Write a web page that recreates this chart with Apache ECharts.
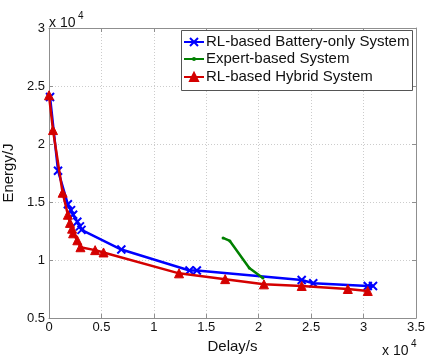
<!DOCTYPE html>
<html>
<head>
<meta charset="utf-8">
<script src="https://cdn.jsdelivr.net/npm/echarts@6/dist/echarts.min.js"></script>
<style>
  html, body { margin: 0; padding: 0; background: #fff; }
  #chart { width: 427px; height: 358px; }
</style>
</head>
<body>
<div id="chart"></div>
<script>
// values (delay in s, energy in J)
const xTicks = ["0", "0.5", "1", "1.5", "2", "2.5", "3", "3.5"];
const yTicks = ["0.5", "1", "1.5", "2", "2.5", "3"];

const batteryDelay = [100, 860, 1800, 2100, 2300, 2700, 2950, 3100, 6900, 13400, 14100, 24100, 25200, 30400, 30900];
const batteryEnergy = [24050, 17700, 14800, 14300, 13900, 13300, 12900, 12600, 10900, 9100, 9100, 8280, 8000, 7760, 7760];

const expertDelay = [16600, 17250, 19100, 20400];
const expertEnergy = [11900, 11640, 9310, 8450];

const hybridDelay = [0, 380, 1300, 1800, 2000, 2200, 2300, 2700, 3000, 4400, 5200, 12400, 16800, 20500, 24100, 28500, 30400];
const hybridEnergy = [24200, 21200, 15800, 13900, 13200, 12700, 12300, 11700, 11100, 10850, 10650, 8850, 8350, 7900, 7760, 7500, 7330];

const seriesNames = ["RL-based Battery-only System", "Expert-based System", "RL-based Hybrid System"];

const zip = (xs, ys) => xs.map((x, i) => [x, ys[i]]);

const chart = echarts.init(document.getElementById("chart"), null, { renderer: "canvas" });

const font = "'Liberation Sans', Arial, sans-serif";
const axisGrey = "#8f8f8f";
const gridLine = { show: true, lineStyle: { color: "#cccccc", type: [1, 2], width: 1 } };
// tick value -> label like MATLAB's "x 10^4" scaled axis
const fmt = (v) => String(+(v / 10000).toFixed(1));

const crossPath = "path://M0,0L10,10M10,0L0,10";

const frameAxis = {
  axisLine: { show: true, onZero: false, lineStyle: { color: axisGrey, width: 1 } },
  axisTick: { show: true, inside: true, length: 4, lineStyle: { color: axisGrey } },
  axisLabel: { show: false },
  splitLine: { show: false }
};

// one legend per row so each marker can get its own size
const legendRow = (name, top, iconH) => ({
  orient: "vertical",
  left: 183, top: top,
  padding: 0,
  itemWidth: 20, itemHeight: iconH,
  textStyle: { color: "#111", fontFamily: font, fontSize: 15, lineHeight: 16, padding: [0, 0, 0, -3] },
  data: [name],
  z: 12
});

const sup = (left, top) => [
  { type: "text", left: left, top: top, z: 20,
    style: { text: "x 10", fill: "#111", font: "14px " + font } },
  { type: "text", left: left + 29, top: top - 5, z: 20,
    style: { text: "4", fill: "#111", font: "10px " + font } }
];

chart.setOption({
  animation: false,
  grid: { left: 49, right: 11, top: 28, bottom: 40, outerBoundsMode: "none" },
  xAxis: [
    {
      type: "value", min: 0, max: 35000, interval: 5000,
      name: "Delay/s", nameLocation: "middle", nameGap: 19,
      nameTextStyle: { color: "#111", fontFamily: font, fontSize: 15 },
      axisLine: { show: true, onZero: false, lineStyle: { color: axisGrey } },
      axisTick: { show: true, inside: true, length: 4, lineStyle: { color: axisGrey } },
      axisLabel: { color: "#111", fontFamily: font, fontSize: 13, margin: 3, formatter: fmt },
      splitLine: gridLine
    },
    Object.assign({ type: "value", position: "top", min: 0, max: 35000, interval: 5000 }, frameAxis)
  ],
  yAxis: [
    {
      type: "value", min: 5000, max: 30000, interval: 5000,
      name: "Energy/J", nameLocation: "middle", nameGap: 26,
      nameTextStyle: { color: "#111", fontFamily: font, fontSize: 15 },
      axisLine: { show: true, onZero: false, lineStyle: { color: axisGrey } },
      axisTick: { show: true, inside: true, length: 4, lineStyle: { color: axisGrey } },
      axisLabel: { color: "#111", fontFamily: font, fontSize: 13, margin: 4, formatter: fmt },
      splitLine: gridLine
    },
    Object.assign({ type: "value", position: "right", min: 5000, max: 30000, interval: 5000 }, frameAxis)
  ],
  legend: [
    legendRow(seriesNames[0], 34, 10),
    legendRow(seriesNames[1], 51, 5),
    legendRow(seriesNames[2], 69, 10)
  ],
  graphic: [
    { type: "rect", left: 181, top: 30, z: 10,
      shape: { width: 231, height: 60 },
      style: { fill: "#fff", stroke: "#555", lineWidth: 1 } }
  ].concat(sup(49, 16), sup(382, 344)),
  series: [
    {
      name: seriesNames[0],
      type: "line",
      data: zip(batteryDelay, batteryEnergy),
      symbol: crossPath, symbolSize: 8,
      lineStyle: { color: "#0000ff", width: 2.5 },
      itemStyle: { color: "#0000ff", borderColor: "#0000ff", borderWidth: 2 },
      z: 2
    },
    {
      name: seriesNames[1],
      type: "line",
      data: zip(expertDelay, expertEnergy),
      symbol: "circle", symbolSize: 3,
      lineStyle: { color: "#008000", width: 2.5 },
      itemStyle: { color: "#008000" },
      z: 3
    },
    {
      name: seriesNames[2],
      type: "line",
      data: zip(hybridDelay, hybridEnergy),
      symbol: "triangle", symbolSize: 9,
      lineStyle: { color: "#d40000", width: 2.5 },
      itemStyle: { color: "#d40000", borderColor: "#d40000", borderWidth: 1 },
      z: 4
    }
  ]
});
</script>
</body>
</html>
